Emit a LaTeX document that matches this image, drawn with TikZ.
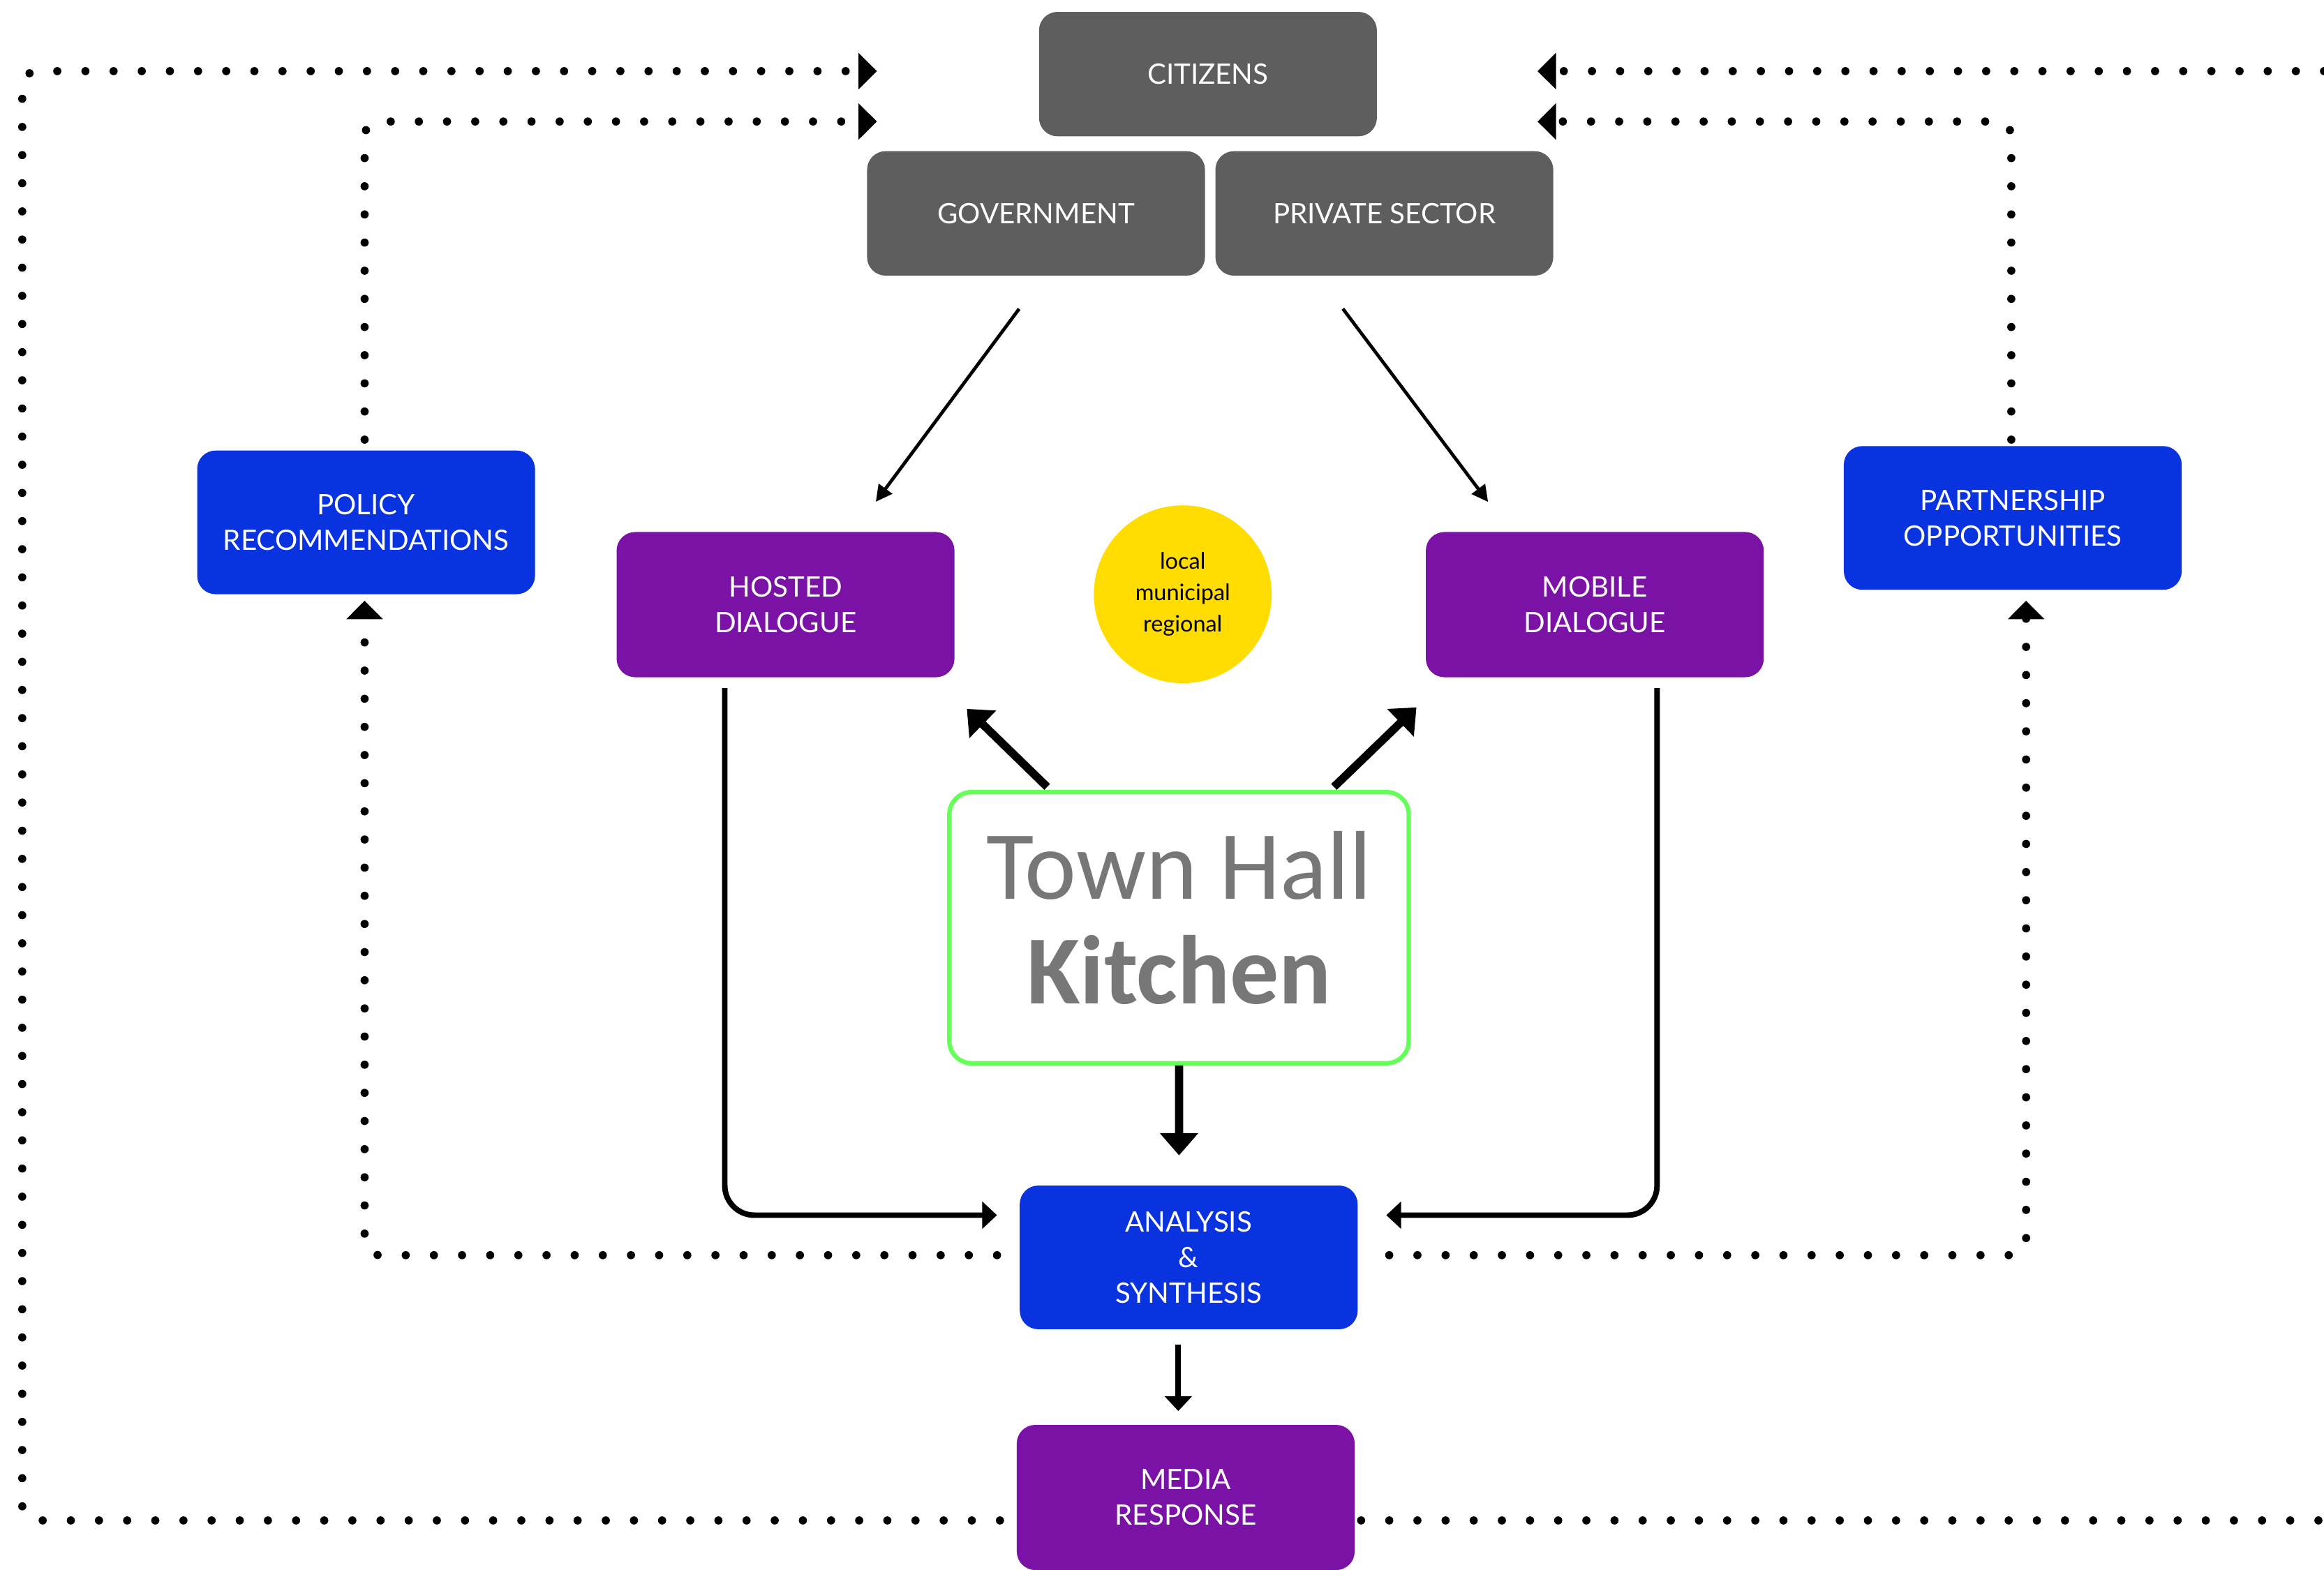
\documentclass[tikz,border=0pt]{standalone}
\usepackage{fontspec}
\setmainfont{Lato}
\newfontfamily\calib{Carlito}
\usetikzlibrary{arrows.meta,calc}
\definecolor{grigio}{HTML}{5E5E5E}
\definecolor{blu}{HTML}{0A33E0}
\definecolor{viola}{HTML}{7B12A6}
\definecolor{giallo}{HTML}{FFDD00}
\definecolor{verde}{HTML}{66FF5A}
\definecolor{testo}{HTML}{777777}

\begin{document}
\begin{tikzpicture}[x=0.02cm,y=-0.02cm,
    box/.style={rounded corners=0.25cm, minimum width=4.56cm, inner sep=0pt, text=white, align=center, font=\fontsize{10.8}{13.6}\selectfont},
    greybox/.style={box, fill=grigio, minimum height=1.68cm},
    bluebox/.style={box, fill=blu, minimum height=1.94cm},
    purplebox/.style={box, fill=viola, minimum height=1.96cm},
    dots/.style={line width=0.11cm, line cap=round, dash pattern=on 0pt off 0.38cm, rounded corners=0.2cm, -{Triangle[length=0.25cm,width=0.48cm]}},
    thin/.style={line width=0.045cm, -{Triangle[length=0.22cm,width=0.22cm]}},
    conn/.style={line width=0.075cm, rounded corners=0.4cm, -{Triangle[length=0.2cm,width=0.36cm]}},
    thick/.style={line width=0.11cm, -{Triangle[length=0.3cm,width=0.5cm]}}]
      \useasboundingbox (0,0) rectangle (1568,1059);
      %riquadri
      \node[greybox] (citizens) at (815,50) {CITIZENS};
      \node[greybox] (gov) at (699,144) {GOVERNMENT};
      \node[greybox] (priv) at (934,144) {PRIVATE SECTOR};
      \node[bluebox] (policy) at (247,352.5) {POLICY\\RECOMMENDATIONS};
      \node[bluebox] (partner) at (1358,349.5) {PARTNERSHIP\\OPPORTUNITIES};
      \node[purplebox] (hosted) at (530,408) {HOSTED\\DIALOGUE};
      \node[purplebox] (mobile) at (1076,408) {MOBILE\\DIALOGUE};
      \node[circle, fill=giallo, minimum size=2.4cm, inner sep=0pt, align=center, font=\fontsize{8.7}{12}\selectfont] (scale) at (798,401) {local\\municipal\\regional};
      \node[draw=verde, line width=0.06cm, rounded corners=0.3cm, minimum width=6.2cm, minimum height=3.66cm, align=center, text depth=0.28cm, text=testo, font=\calib\fontsize{37.5}{40.3}\selectfont] (thk) at (795.5,626) {Town Hall\\\textbf{Kitchen}};
      \node[bluebox] (analysis) at (802,848.5) {ANALYSIS\\\&\\SYNTHESIS};
      \node[purplebox] (media) at (800,1010.5) {MEDIA\\RESPONSE};
      %frecce
      \draw[thin, shorten <=0.55cm, shorten >=0.5cm] ($(gov.south)+(5,0)$) -- ($(hosted.north)+(46,0)$);
      \draw[thin, shorten <=0.55cm, shorten >=0.5cm] ($(priv.south)+(-44.5,0)$) -- ($(mobile.north)+(-57,0)$);
      \draw[thick] ($(thk.north)+(-89,-2)$) -- ($(hosted.south east)+(8,21)$);
      \draw[thick] ($(thk.north)+(104.5,-2)$) -- ($(mobile.south west)+(-6,20)$);
      \draw[thick] (thk.south) -- ($(analysis.north)+(-6.5,-20)$);
      \draw[conn] ($(hosted.south)+(-41,7)$) |- ($(analysis.west)+(-15,-28.5)$);
      \draw[conn] ($(mobile.south)+(42,7)$) |- ($(analysis.east)+(19,-28.5)$);
      \draw[conn] ($(analysis.south)+(-7,10)$) -- ($(media.north)+(-5,-9)$);
      %frecce punteggiate
      \coordinate (sx) at (15,48);
      \coordinate (dx1) at (1568,1026);
      \coordinate (dx2) at (1568,48);
      \draw[dots] ($(analysis.west)+(-15,-1.5)$) -| ($(policy.south)+(-1,4)$);
      \draw[dots] ($(analysis.east)+(21,-1.5)$) -| ($(partner.south)+(9,7)$);
      \draw[dots] ($(policy.north)+(-1,-7)$) |- ($(citizens.west)+(-109,32)$);
      \draw[dots] ($(partner.north)+(-1,-4)$) |- ($(citizens.east)+(108,32)$);
      \draw[dots] ($(media.west)+(-11,15.5)$) -| (sx) -- ($(citizens.west)+(-109,-2)$);
      \draw[dots, -] ($(media.east)+(4,15.5)$) -- (dx1);
      \draw[dots] (dx2) -- ($(citizens.east)+(108,-2)$);
\end{tikzpicture}
\end{document}
